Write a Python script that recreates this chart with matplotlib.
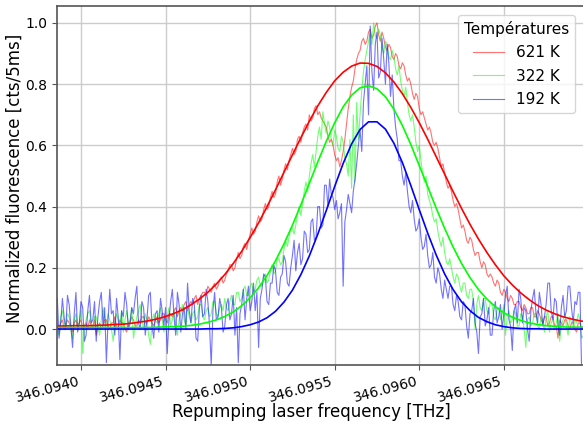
import numpy as np
import matplotlib
matplotlib.use("Agg")
import matplotlib.pyplot as plt
from matplotlib.ticker import FormatStrFormatter

# Frequency scan (THz): first point and step of the recorded traces / fit curves
scan_start = 346.09385
scan_step = 0.00001
fit_step = 0.00005

# Normalized fluorescence traces
counts_621 = [
    0.02, 0.01, 0.00, 0.02, 0.03, 0.00, 0.01, 0.03, 0.02, 0.01, -0.01, 0.02, 0.03, 0.00, 0.02, 0.03, 0.00, 0.01, 0.02, 0.00,
    0.03, 0.01, 0.01, 0.03, -0.02, 0.01, 0.02, 0.00, 0.01, 0.03, 0.03, 0.01, 0.00, 0.02, 0.02, 0.04, 0.01, 0.00, 0.03, 0.02,
    0.02, 0.00, -0.01, 0.02, 0.02, 0.04, 0.03, 0.01, 0.01, 0.03, 0.02, 0.04, 0.04, 0.02, 0.02, 0.04, 0.03, 0.02, 0.01, 0.03,
    0.04, 0.02, 0.03, 0.05, 0.05, 0.03, 0.02, 0.05, 0.05, 0.04, 0.06, 0.07, 0.04, 0.06, 0.07, 0.06, 0.08, 0.09, 0.06, 0.08,
    0.09, 0.08, 0.10, 0.11, 0.08, 0.10, 0.11, 0.12, 0.12, 0.11, 0.14, 0.13, 0.12, 0.14, 0.15, 0.13, 0.14, 0.16, 0.17, 0.15,
    0.16, 0.18, 0.19, 0.21, 0.21, 0.19, 0.20, 0.23, 0.25, 0.23, 0.24, 0.27, 0.28, 0.26, 0.29, 0.31, 0.33, 0.31, 0.32, 0.35,
    0.37, 0.35, 0.36, 0.39, 0.41, 0.39, 0.40, 0.43, 0.45, 0.43, 0.44, 0.48, 0.50, 0.47, 0.49, 0.52, 0.54, 0.52, 0.55, 0.57,
    0.59, 0.57, 0.58, 0.62, 0.63, 0.61, 0.64, 0.66, 0.67, 0.65, 0.70, 0.68, 0.69, 0.72, 0.73, 0.70, 0.71, 0.69, 0.68, 0.67,
    0.66, 0.63, 0.61, 0.62, 0.60, 0.57, 0.55, 0.56, 0.53, 0.55, 0.58, 0.62, 0.67, 0.72, 0.76, 0.79, 0.81, 0.85, 0.88, 0.90,
    0.91, 0.94, 0.95, 0.93, 0.94, 0.97, 0.98, 0.95, 0.96, 0.99, 1.00, 0.96, 0.94, 0.97, 0.95, 0.92, 0.91, 0.93, 0.92, 0.89,
    0.88, 0.90, 0.89, 0.86, 0.85, 0.87, 0.86, 0.83, 0.81, 0.82, 0.80, 0.77, 0.75, 0.77, 0.76, 0.72, 0.70, 0.71, 0.69, 0.67,
    0.65, 0.66, 0.64, 0.61, 0.60, 0.61, 0.59, 0.56, 0.53, 0.54, 0.51, 0.48, 0.46, 0.47, 0.45, 0.42, 0.40, 0.41, 0.39, 0.36,
    0.33, 0.34, 0.32, 0.29, 0.28, 0.30, 0.29, 0.26, 0.24, 0.25, 0.25, 0.22, 0.20, 0.22, 0.21, 0.18, 0.17, 0.18, 0.17, 0.15,
    0.14, 0.16, 0.15, 0.12, 0.11, 0.13, 0.12, 0.10, 0.09, 0.11, 0.10, 0.08, 0.08, 0.09, 0.09, 0.07, 0.06, 0.08, 0.07, 0.05,
    0.05, 0.07, 0.07, 0.04, 0.04, 0.06, 0.05, 0.03, 0.02, 0.04, 0.04, 0.01, 0.02, 0.04, 0.04, 0.01, 0.01, -0.03, 0.03, 0.02,
    0.01, 0.03, 0.03, 0.01, 0.00, 0.02, 0.02, 0.00, -0.01, 0.02, 0.02, 0.00, 0.01, 0.03, 0.02, 0.01,
]
counts_322 = [
    0.03, 0.00, -0.02, 0.04, 0.06, 0.02, 0.01, 0.05, 0.04, 0.00, -0.03, 0.03, 0.05, 0.01, 0.02, 0.06, -0.08, 0.00, 0.03, 0.05,
    0.06, 0.02, 0.00, 0.04, 0.04, 0.01, -0.02, 0.03, 0.07, 0.04, 0.01, 0.05, 0.03, 0.00, -0.04, 0.02, 0.05, 0.03, 0.02, 0.06,
    -0.01, 0.03, 0.06, 0.02, 0.03, 0.07, -0.03, 0.01, 0.04, 0.06, 0.08, 0.03, 0.00, 0.05, 0.03, -0.02, -0.05, 0.02, 0.05, 0.03,
    0.02, 0.05, 0.07, 0.03, -0.01, 0.02, 0.04, 0.07, 0.01, 0.03, 0.06, 0.02, -0.02, 0.03, 0.05, 0.08, 0.03, 0.01, 0.07, 0.04,
    0.02, 0.05, 0.06, 0.03, 0.04, 0.08, 0.08, 0.04, 0.03, 0.06, 0.07, 0.04, 0.05, 0.09, 0.09, 0.05, 0.04, 0.07, 0.08, 0.06,
    0.10, 0.07, 0.06, 0.09, 0.11, 0.08, 0.08, 0.12, 0.12, 0.09, 0.10, 0.13, 0.14, 0.11, 0.11, 0.14, 0.15, 0.12, 0.13, 0.16,
    0.17, 0.14, 0.14, 0.17, 0.18, 0.15, 0.16, 0.19, 0.21, 0.18, 0.19, 0.23, 0.23, 0.21, 0.22, 0.26, 0.29, 0.27, 0.30, 0.33,
    0.33, 0.31, 0.34, 0.38, 0.40, 0.37, 0.41, 0.45, 0.48, 0.45, 0.50, 0.54, 0.57, 0.53, 0.58, 0.63, 0.66, 0.62, 0.71, 0.67,
    0.64, 0.68, 0.66, 0.62, 0.60, 0.65, 0.63, 0.59, 0.58, 0.63, 0.61, 0.56, 0.54, 0.50, 0.62, 0.46, 0.70, 0.48, 0.74, 0.62,
    0.70, 0.78, 0.84, 0.88, 0.91, 0.94, 0.97, 0.93, 1.00, 0.96, 0.95, 0.98, 0.96, 0.92, 0.90, 0.94, 0.93, 0.89, 0.88, 0.91,
    0.89, 0.85, 0.83, 0.86, 0.81, 0.78, 0.76, 0.79, 0.74, 0.70, 0.68, 0.70, 0.66, 0.61, 0.58, 0.60, 0.55, 0.51, 0.48, 0.50,
    0.44, 0.42, 0.40, 0.37, 0.35, 0.36, 0.32, 0.29, 0.27, 0.30, 0.25, 0.22, 0.21, 0.23, 0.20, 0.17, 0.15, 0.18, 0.17, 0.14,
    0.12, 0.15, 0.15, 0.11, 0.10, 0.13, 0.13, 0.09, 0.00, 0.08, 0.11, 0.07, 0.06, 0.10, 0.10, 0.06, 0.05, 0.09, 0.08, 0.04,
    0.03, 0.06, 0.07, 0.03, 0.05, 0.08, -0.02, 0.04, 0.06, 0.02, 0.03, 0.06, 0.05, 0.01, 0.01, 0.05, 0.04, 0.00, -0.06, 0.03,
    0.04, 0.01, 0.02, 0.05, 0.05, 0.01, 0.00, 0.04, 0.03, -0.01, 0.04, 0.06, -0.01, 0.02, 0.03, 0.00, 0.02, 0.05, -0.04, 0.01,
    0.03, 0.05, 0.01, -0.02, 0.04, 0.02, 0.00, 0.03, 0.02, 0.05, 0.03, -0.03, -0.02, 0.01, 0.02, 0.04,
]
counts_192 = [
    0.05, 0.10, -0.03, 0.02, 0.10, 0.04, 0.00, 0.11, 0.08, 0.01, -0.06, 0.05, 0.12, -0.01, 0.02, 0.09, 0.07, -0.04, -0.02, 0.06,
    0.11, 0.02, 0.03, 0.09, -0.04, 0.04, 0.09, 0.12, 0.01, 0.07, -0.11, 0.03, 0.13, 0.05, 0.06, -0.02, 0.10, 0.04, -0.10, 0.06,
    0.04, 0.12, 0.08, 0.00, 0.02, 0.07, 0.05, 0.10, 0.14, 0.02, 0.00, 0.09, 0.07, -0.02, 0.03, 0.11, 0.12, 0.01, -0.03, 0.05,
    0.06, -0.01, 0.10, 0.06, 0.01, 0.07, -0.08, 0.03, 0.09, 0.13, 0.04, -0.02, 0.12, 0.08, -0.01, 0.05, 0.07, 0.00, 0.15, 0.06,
    0.02, 0.10, 0.08, -0.03, -0.04, 0.07, 0.11, 0.04, 0.05, 0.13, 0.09, 0.01, -0.12, 0.06, 0.12, 0.03, 0.04, 0.10, 0.07, -0.01,
    0.01, 0.08, 0.10, 0.03, 0.05, 0.11, -0.02, 0.07, -0.11, 0.05, 0.08, 0.13, 0.03, 0.10, 0.14, 0.06, 0.09, 0.15, 0.06, 0.12,
    -0.06, 0.10, 0.13, 0.18, 0.17, 0.09, 0.08, 0.15, 0.15, 0.21, 0.19, 0.12, 0.11, 0.17, 0.18, 0.24, 0.22, 0.15, 0.14, 0.20,
    0.24, 0.29, 0.19, 0.25, 0.28, 0.21, 0.23, 0.32, 0.31, 0.25, 0.26, 0.35, 0.36, 0.29, 0.30, 0.40, 0.40, 0.33, 0.34, 0.47,
    0.47, 0.40, 0.49, 0.44, 0.43, 0.39, 0.42, 0.36, 0.38, 0.41, 0.14, 0.35, 0.39, 0.44, 0.41, 0.38, 0.45, 0.49, 0.54, 0.60,
    0.65, 0.58, 0.74, 0.80, 0.86, 0.70, 0.99, 0.84, 0.78, 0.93, 0.97, 0.82, 0.84, 0.95, 0.88, 0.80, 0.93, 0.87, 0.76, 0.83,
    0.72, 0.66, 0.62, 0.55, 0.55, 0.50, 0.47, 0.51, 0.45, 0.40, 0.38, 0.42, 0.36, 0.32, 0.33, 0.36, 0.30, 0.26, 0.27, 0.31,
    0.24, 0.20, 0.21, 0.25, 0.17, 0.15, 0.20, 0.18, 0.13, 0.10, 0.16, 0.13, 0.10, 0.14, 0.14, 0.08, 0.06, 0.11, 0.09, 0.04,
    0.03, 0.09, 0.08, 0.01, -0.03, 0.05, 0.06, 0.10, 0.02, -0.01, -0.08, 0.04, 0.05, 0.10, 0.01, 0.03, 0.07, -0.02, -0.02, 0.06,
    0.09, 0.02, 0.04, 0.08, 0.00, 0.05, 0.11, 0.14, 0.03, 0.01, -0.07, 0.06, 0.08, 0.02, 0.13, 0.10, 0.02, 0.07, 0.06, 0.00,
    -0.04, 0.06, 0.10, 0.13, 0.05, 0.02, 0.12, 0.08, 0.01, 0.04, 0.08, 0.15, 0.15, 0.06, 0.03, 0.10, 0.09, 0.01, -0.02, 0.07,
    0.11, 0.04, 0.06, 0.14, 0.14, 0.07, 0.02, 0.09, 0.08, 0.12, 0.12, -0.14, -0.14, 0.05, 0.03, 0.07,
]

# Gaussian fit curves, sampled on the coarser fit grid
fit_621 = [
    0.010, 0.010, 0.011, 0.011, 0.011, 0.012, 0.013, 0.015, 0.016, 0.019,
    0.023, 0.027, 0.033, 0.041, 0.051, 0.063, 0.079, 0.098, 0.120, 0.147,
    0.178, 0.214, 0.254, 0.299, 0.347, 0.400, 0.455, 0.512, 0.569, 0.625,
    0.679, 0.729, 0.773, 0.811, 0.839, 0.859, 0.869, 0.868, 0.858, 0.837,
    0.807, 0.769, 0.724, 0.674, 0.620, 0.563, 0.506, 0.449, 0.394, 0.342,
    0.294, 0.250, 0.210, 0.174, 0.144, 0.118, 0.096, 0.077, 0.062, 0.050,
    0.040, 0.033, 0.027, 0.022,
]
fit_322 = [
    0.005, 0.005, 0.005, 0.005, 0.005, 0.005, 0.005, 0.005, 0.005, 0.005,
    0.005, 0.005, 0.006, 0.007, 0.008, 0.009, 0.012, 0.016, 0.022, 0.030,
    0.041, 0.056, 0.076, 0.102, 0.135, 0.175, 0.223, 0.278, 0.339, 0.406,
    0.476, 0.546, 0.613, 0.674, 0.726, 0.764, 0.788, 0.795, 0.785, 0.759,
    0.718, 0.665, 0.603, 0.534, 0.465, 0.395, 0.329, 0.268, 0.214, 0.168,
    0.129, 0.098, 0.073, 0.053, 0.039, 0.028, 0.020, 0.015, 0.011, 0.009,
    0.007, 0.006, 0.006, 0.005,
]
fit_192 = [
    0.000, 0.000, 0.000, 0.000, 0.000, 0.000, 0.000, 0.000, 0.000, 0.000,
    0.000, 0.000, 0.000, 0.000, 0.000, 0.000, 0.000, 0.000, 0.001, 0.001,
    0.002, 0.004, 0.008, 0.014, 0.023, 0.037, 0.058, 0.088, 0.127, 0.178,
    0.239, 0.310, 0.387, 0.466, 0.541, 0.605, 0.652, 0.677, 0.677, 0.653,
    0.607, 0.544, 0.469, 0.390, 0.313, 0.242, 0.180, 0.129, 0.089, 0.060,
    0.038, 0.024, 0.014, 0.008, 0.004, 0.002, 0.001, 0.001, 0.000, 0.000,
    0.000, 0.000, 0.000, 0.000,
]

labels = ["621 K", "322 K", "192 K"]
colors = ["red", "lime", "blue"]
x_ticks = [346.0940, 346.0945, 346.0950, 346.0955, 346.0960, 346.0965]
y_ticks = [0.0, 0.2, 0.4, 0.6, 0.8, 1.0]

fig = plt.figure(figsize=(5.83, 4.23), dpi=100)
ax = fig.add_axes([0.0978, 0.137, 0.907, 0.849])

for trace, color, label in zip([counts_621, counts_322, counts_192], colors, labels):
    freq = scan_start + scan_step * np.arange(len(trace))
    ax.plot(freq, trace, color=color, lw=0.8, alpha=0.55, label=label)
for fit, color in zip([fit_621, fit_322, fit_192], colors):
    fit_freq = scan_start + fit_step * np.arange(len(fit))
    ax.plot(fit_freq, fit, color=color, lw=1.2)

ax.set_xlim(346.0938582, 346.0969846)
ax.set_ylim(-0.1176, 1.0556)
ax.set_xticks(x_ticks)
ax.set_yticks(y_ticks)
ax.xaxis.set_major_formatter(FormatStrFormatter("%.4f"))
ax.yaxis.set_major_formatter(FormatStrFormatter("%.1f"))
ax.tick_params(axis="both", labelsize=10, color="#555555", length=3.5)
for lbl in ax.get_xticklabels():
    lbl.set_rotation(15)
    lbl.set_ha("right")

ax.grid(True, color="#cccccc", lw=1.0)
ax.set_axisbelow(True)
for side in ax.spines.values():
    side.set_color("#555555")
    side.set_linewidth(1.2)

ax.set_xlabel("Repumping laser frequency [THz]", fontsize=12)
ax.set_ylabel("Normalized fluorescence [cts/5ms]", fontsize=12)
ax.xaxis.set_label_coords(0.481, -0.106)
ax.yaxis.set_label_coords(-0.062, 0.52)

leg = ax.legend(title="Températures", loc="upper right", fontsize=11,
                title_fontsize=11, framealpha=0.8, edgecolor="#cccccc",
                bbox_to_anchor=(0.9796, 0.975), borderaxespad=0.0,
                labelspacing=0.55)

fig.savefig("out.png", dpi=100)
